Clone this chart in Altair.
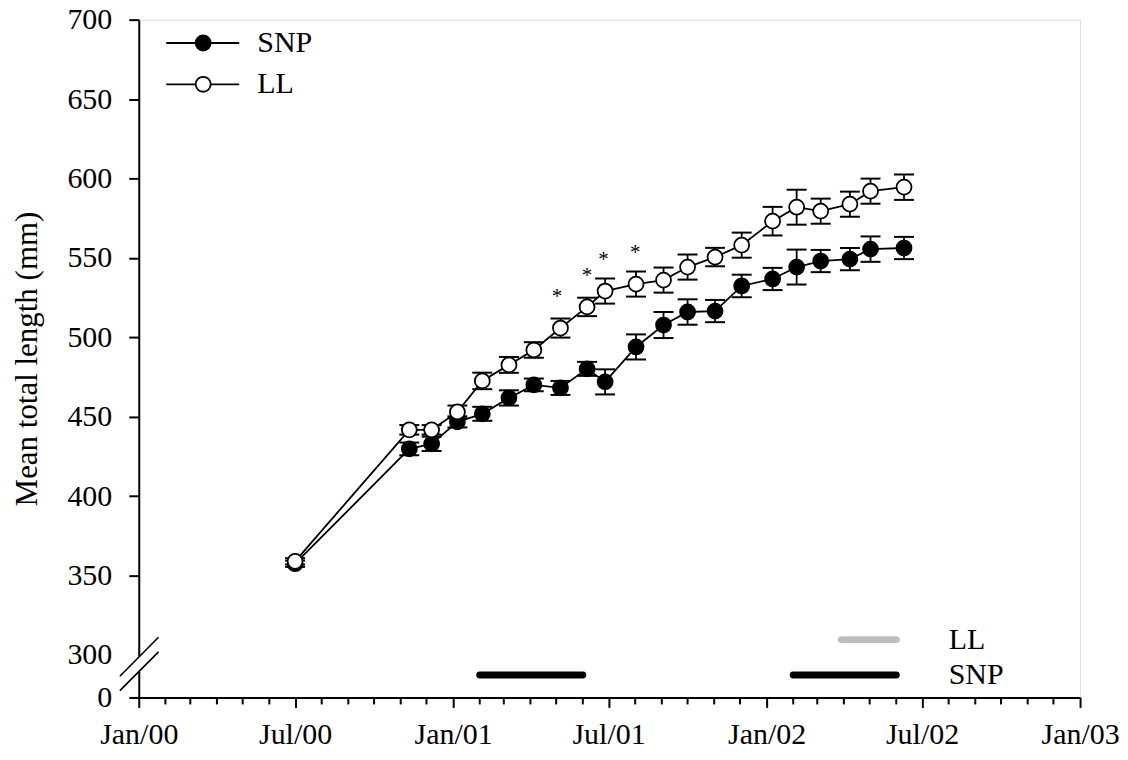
import altair as alt
import pandas as pd

FONT = "Liberation Serif"

# ---- sampling dates (both groups measured on same dates)
dates = ["2000-07-01", "2000-11-11", "2000-12-07", "2001-01-06", "2001-02-04",
         "2001-03-07", "2001-04-05", "2001-05-06", "2001-06-06", "2001-06-27",
         "2001-08-02", "2001-09-03", "2001-10-01", "2001-11-02", "2001-12-03",
         "2002-01-08", "2002-02-05", "2002-03-05", "2002-04-08", "2002-05-02",
         "2002-06-10"]

snp_mean = [357.4, 429.7, 432.9, 446.7, 451.8, 461.8, 470.0, 468.1, 480.1, 471.9,
            493.9, 507.7, 515.9, 516.5, 532.3, 536.7, 544.2, 548.0, 549.2, 555.5, 556.2]
snp_se = [2, 4, 4.5, 3.5, 4.4, 4.8, 4, 4.4, 4.4, 7.9,
          7.9, 8.2, 8, 7, 7.1, 7, 11, 7, 7, 8, 7]

ll_mean = [358.9, 441.7, 441.7, 453.0, 472.5, 482.6, 492.0, 505.8, 519.1, 529.1,
           533.5, 536.0, 544.2, 550.5, 558.0, 573.1, 581.9, 579.4, 583.8, 592.0, 594.5]
ll_se = [2, 3, 3, 4, 5.2, 5, 4.9, 6, 5.8, 7.9,
         7.9, 7.9, 7.9, 5.8, 7.9, 9, 11, 7.9, 7.9, 7.9, 8]

# ---- significance asterisks
sig_dates = ["2001-05-02", "2001-06-06", "2001-06-25", "2001-08-01"]
sig_y = [527.2, 540.3, 550.7, 554.9]

# ---- photoperiod bars (bottom)
bar_group = ["SNP", "SNP", "LL"]
bar_start = ["2001-02-01", "2002-02-01", "2002-03-29"]
bar_end = ["2001-06-01", "2002-06-01", "2002-06-01"]
bar_row = {"SNP": 287.3, "LL": 309.6}
bar_color = {"SNP": "#000000", "LL": "#bdbdbd"}
bar_label_date = "2002-08-01"

# ---- y axis with a break: value 0 drawn just below 300
Y0 = 273.2
y_ticks = [Y0, 300, 350, 400, 450, 500, 550, 600, 650, 700]
x_ticks = [(2000, 1), (2000, 7), (2001, 1), (2001, 7), (2002, 1), (2002, 7), (2003, 1)]
minor_months = [f"{y}-{m:02d}-01" for y in (2000, 2001, 2002) for m in range(1, 13) if m not in (1, 7)]

# legend key positions (in data units)
legend_series = ["SNP", "LL"]
legend_y = [685.3, 659.3]
legend_x0, legend_x1, legend_xm, legend_xt = "2000-02-02", "2000-04-27", "2000-03-16", "2000-05-18"

# axis-break slashes
break_x0, break_x1 = "1999-12-10", "2000-01-24"
break_y0 = [286.5, 277.5]
break_y1 = [311.1, 301.9]

# ---- tables
rows = []
for d, m, s in zip(dates, snp_mean, snp_se):
    rows.append({"date": d, "series": "SNP", "mean": m, "lo": m - s, "hi": m + s})
for d, m, s in zip(dates, ll_mean, ll_se):
    rows.append({"date": d, "series": "LL", "mean": m, "lo": m - s, "hi": m + s})
df = pd.DataFrame(rows)

sig_df = pd.DataFrame({"date": sig_dates, "y": sig_y, "t": ["*"] * len(sig_dates)})
bars_df = pd.DataFrame({"group": bar_group, "start": bar_start, "end": bar_end,
                        "y": [bar_row[g] for g in bar_group]})
bar_lab_df = pd.DataFrame({"group": ["LL", "SNP"], "date": [bar_label_date] * 2,
                           "y": [bar_row["LL"], bar_row["SNP"]]})
leg_df = pd.DataFrame({"series": legend_series, "y": legend_y,
                       "x0": [legend_x0] * 2, "x1": [legend_x1] * 2,
                       "xm": [legend_xm] * 2, "xt": [legend_xt] * 2})
minor_df = pd.DataFrame({"date": minor_months})
break_df = pd.DataFrame({"x0": [break_x0] * 2, "x1": [break_x1] * 2,
                         "y0": break_y0, "y1": break_y1})
gap_df = pd.DataFrame({"date": ["2000-01-01"], "y0": [289.3], "y1": [298.6]})

PLOT_H = 679

# ---- scales / axes
X_SCALE = alt.Scale(type="utc", nice=False,
                    domain=[alt.DateTime(year=2000, month=1, date=1, utc=True),
                            alt.DateTime(year=2003, month=1, date=1, utc=True)])
X_AXIS = alt.Axis(values=[alt.DateTime(year=y, month=m, date=1, utc=True) for y, m in x_ticks],
                  labelExpr="utcFormat(datum.value, '%b/%y')", title=None, grid=False,
                  labelFont=FONT, labelFontSize=30, labelColor="black",
                  labelFlush=False, labelOverlap=False, labelPadding=12,
                  tickSize=10, tickWidth=2, tickColor="black",
                  domainColor="black", domainWidth=2, zindex=0)
Y_SCALE = alt.Scale(domain=[Y0, 700], nice=False, zero=False)
Y_AXIS = alt.Axis(values=y_ticks, title="Mean total length (mm)", grid=False,
                  labelExpr="datum.value < 290 ? '0' : format(datum.value, 'd')",
                  labelFont=FONT, labelFontSize=30, labelColor="black",
                  labelOverlap=False, labelPadding=17, labelFlush=False,
                  tickSize=10, tickWidth=2, tickColor="black",
                  tickOpacity={"condition": {"test": "datum.value === 300", "value": 0}, "value": 1},
                  domainColor="black", domainWidth=2,
                  titleFont=FONT, titleFontSize=31, titleFontWeight="normal",
                  titleColor="black", titlePadding=23, zindex=0)


def X(f):
    return alt.X(f, type="temporal", scale=X_SCALE, axis=X_AXIS)


def Y(f):
    return alt.Y(f, type="quantitative", scale=Y_SCALE, axis=Y_AXIS)


FILL = alt.Fill("series:N", scale=alt.Scale(domain=["SNP", "LL"], range=["black", "white"]), legend=None)

base = alt.Chart(df)

minor = alt.Chart(minor_df).mark_rule(color="black", strokeWidth=2).encode(
    x=X("date"), y=alt.value(PLOT_H), y2=alt.value(PLOT_H + 7))

gap = alt.Chart(gap_df).mark_rule(color="white", strokeWidth=6).encode(
    x=X("date"), y=Y("y0"), y2="y1")

slashes = alt.Chart(break_df).mark_rule(color="black", strokeWidth=1.6).encode(
    x=X("x0"), x2="x1", y=Y("y0"), y2="y1")

lines = base.mark_line(color="black", strokeWidth=1.8).encode(
    x=X("date"), y=Y("mean"), detail="series:N")

err = base.mark_rule(color="black", strokeWidth=1.8).encode(
    x=X("date"), y=Y("lo"), y2="hi")
cap_lo = base.mark_tick(color="black", orient="horizontal", size=20, thickness=2, opacity=1).encode(
    x=X("date"), y=Y("lo"))
cap_hi = base.mark_tick(color="black", orient="horizontal", size=20, thickness=2, opacity=1).encode(
    x=X("date"), y=Y("hi"))

pts = base.mark_point(shape="circle", filled=True, size=225, opacity=1,
                      stroke="black", strokeWidth=1.8).encode(
    x=X("date"), y=Y("mean"), fill=FILL)

stars = alt.Chart(sig_df).mark_text(font=FONT, fontSize=21, color="black",
                                    baseline="alphabetic", dy=9).encode(
    x=X("date"), y=Y("y"), text="t:N")

bars = alt.Chart(bars_df).mark_rule(strokeWidth=7, strokeCap="round").encode(
    x=X("start"), x2="end", y=Y("y"),
    color=alt.Color("group:N", scale=alt.Scale(domain=["SNP", "LL"],
                                               range=[bar_color["SNP"], bar_color["LL"]]),
                    legend=None))

bar_labels = alt.Chart(bar_lab_df).mark_text(font=FONT, fontSize=30, color="black",
                                             align="left", baseline="middle").encode(
    x=X("date"), y=Y("y"), text="group:N")

leg_line = alt.Chart(leg_df).mark_rule(color="black", strokeWidth=1.8).encode(
    x=X("x0"), x2="x1", y=Y("y"))
leg_pt = alt.Chart(leg_df).mark_point(shape="circle", filled=True, size=225, opacity=1,
                                      stroke="black", strokeWidth=1.8).encode(
    x=X("xm"), y=Y("y"), fill=FILL)
leg_txt = alt.Chart(leg_df).mark_text(font=FONT, fontSize=30, color="black",
                                      align="left", baseline="middle").encode(
    x=X("xt"), y=Y("y"), text="series:N")

chart = alt.layer(
    minor, gap, slashes, lines, err, cap_lo, cap_hi, pts, stars,
    bars, bar_labels, leg_line, leg_pt, leg_txt
).properties(
    width=943, height=PLOT_H,
    padding={"left": 131, "top": 11, "right": 40, "bottom": 55},
    autosize=alt.AutoSizeParams(type="none"),
).configure_view(stroke=None).configure(background="white")

chart.save("out.html", embed_options={"renderer": "svg", "actions": False})
